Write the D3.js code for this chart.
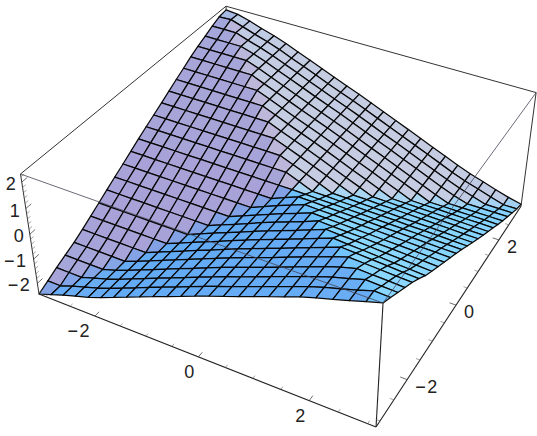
<!DOCTYPE html>
<html>
<head>
<meta charset="utf-8">
<script src="https://cdn.jsdelivr.net/npm/d3@7"></script>
<style>
body { margin: 0; background: #fff; }
text { font-family: "Liberation Sans", Arial, sans-serif; font-size: 18px; fill: #222; }
</style>
</head>
<body>
<div id="chart"></div>
<script>
// grid nodes of the surface
var xNodes = [-3.14,-2.88,-2.62,-2.36,-2.09,-1.83,-1.57,-1.31,-1.05,-0.79,-0.52,-0.26,0,0.26,0.52,0.79,1.05,1.31,1.57,1.83,2.09,2.36,2.62,2.88,3.14];
var yNodes = [-3.14,-2.88,-2.62,-2.36,-2.09,-1.83,-1.57,-1.31,-1.05,-0.79,-0.52,-0.26,0,0.26,0.52,0.79,1.05,1.31,1.57,1.83,2.09,2.36,2.62,2.88,3.14];
// surface height, one row per y node
var zRows = [
[-2.45,-2.27,-2.08,-1.91,-1.74,-1.54,-1.32,-1.1,-0.88,-0.66,-0.44,-0.22,0,0.21,0.41,0.62,0.83,1.04,1.24,1.45,1.63,1.79,1.96,2.14,2.3],
[-2.27,-2.27,-2.08,-1.91,-1.74,-1.54,-1.32,-1.1,-0.88,-0.66,-0.44,-0.22,0,0.21,0.41,0.62,0.83,1.04,1.24,1.45,1.63,1.79,1.96,2.14,2.11],
[-2.08,-2.08,-2.08,-1.91,-1.74,-1.54,-1.32,-1.1,-0.88,-0.66,-0.44,-0.22,0,0.21,0.41,0.62,0.83,1.04,1.24,1.45,1.63,1.79,1.96,1.93,1.91],
[-1.91,-1.91,-1.91,-1.91,-1.74,-1.54,-1.32,-1.1,-0.88,-0.66,-0.44,-0.22,0,0.21,0.41,0.62,0.83,1.04,1.24,1.45,1.63,1.79,1.76,1.74,1.71],
[-1.74,-1.74,-1.74,-1.74,-1.74,-1.54,-1.32,-1.1,-0.88,-0.66,-0.44,-0.22,0,0.21,0.41,0.62,0.83,1.04,1.24,1.45,1.63,1.6,1.57,1.54,1.51],
[-1.54,-1.54,-1.54,-1.54,-1.54,-1.54,-1.32,-1.1,-0.88,-0.66,-0.44,-0.22,0,0.21,0.41,0.62,0.83,1.04,1.24,1.45,1.42,1.38,1.35,1.31,1.28],
[-1.32,-1.32,-1.32,-1.32,-1.32,-1.32,-1.32,-1.1,-0.88,-0.66,-0.44,-0.22,0,0.21,0.41,0.62,0.83,1.04,1.24,1.2,1.17,1.13,1.09,1.06,1.02],
[-1.1,-1.1,-1.1,-1.1,-1.1,-1.1,-1.1,-1.1,-0.88,-0.66,-0.44,-0.22,0,0.21,0.41,0.62,0.83,1.04,1.01,0.98,0.95,0.91,0.88,0.85,0.82],
[-0.88,-0.88,-0.88,-0.88,-0.88,-0.88,-0.88,-0.88,-0.88,-0.66,-0.44,-0.22,0,0.21,0.41,0.62,0.83,0.8,0.78,0.76,0.73,0.71,0.68,0.66,0.63],
[-0.66,-0.66,-0.66,-0.66,-0.66,-0.66,-0.66,-0.66,-0.66,-0.66,-0.44,-0.22,0,0.21,0.41,0.62,0.6,0.58,0.56,0.54,0.52,0.5,0.48,0.46,0.44],
[-0.44,-0.44,-0.44,-0.44,-0.44,-0.44,-0.44,-0.44,-0.44,-0.44,-0.44,-0.22,0,0.21,0.41,0.39,0.38,0.36,0.34,0.33,0.31,0.29,0.27,0.26,0.24],
[-0.22,-0.22,-0.22,-0.22,-0.22,-0.22,-0.22,-0.22,-0.22,-0.22,-0.22,-0.22,0,0.21,0.2,0.18,0.17,0.15,0.14,0.12,0.11,0.09,0.08,0.06,0.05],
[0,0,0,0,0,0,0,0,0,0,0,0,0,-0.01,-0.03,-0.04,-0.05,-0.06,-0.08,-0.09,-0.1,-0.11,-0.13,-0.14,-0.15],
[0.21,0.21,0.21,0.21,0.21,0.21,0.21,0.21,0.21,0.21,0.21,0.21,0,-0.22,-0.23,-0.25,-0.26,-0.27,-0.28,-0.29,-0.31,-0.32,-0.33,-0.35,-0.36],
[0.41,0.41,0.41,0.41,0.41,0.41,0.41,0.41,0.41,0.41,0.41,0.21,0,-0.22,-0.44,-0.45,-0.47,-0.48,-0.49,-0.51,-0.52,-0.53,-0.54,-0.56,-0.57],
[0.62,0.62,0.62,0.62,0.62,0.62,0.62,0.62,0.62,0.62,0.41,0.21,0,-0.22,-0.44,-0.66,-0.67,-0.69,-0.7,-0.71,-0.73,-0.74,-0.75,-0.77,-0.78],
[0.83,0.83,0.83,0.83,0.83,0.83,0.83,0.83,0.83,0.62,0.41,0.21,0,-0.22,-0.44,-0.66,-0.88,-0.89,-0.91,-0.92,-0.93,-0.94,-0.95,-0.97,-0.98],
[1.04,1.04,1.04,1.04,1.04,1.04,1.04,1.04,0.83,0.62,0.41,0.21,0,-0.22,-0.44,-0.66,-0.88,-1.1,-1.11,-1.12,-1.13,-1.14,-1.15,-1.16,-1.17],
[1.24,1.24,1.24,1.24,1.24,1.24,1.24,1.04,0.83,0.62,0.41,0.21,0,-0.22,-0.44,-0.66,-0.88,-1.1,-1.32,-1.33,-1.33,-1.34,-1.35,-1.35,-1.36],
[1.45,1.45,1.45,1.45,1.45,1.45,1.24,1.04,0.83,0.62,0.41,0.21,0,-0.22,-0.44,-0.66,-0.88,-1.1,-1.32,-1.54,-1.54,-1.55,-1.55,-1.55,-1.56],
[1.63,1.63,1.63,1.63,1.63,1.45,1.24,1.04,0.83,0.62,0.41,0.21,0,-0.22,-0.44,-0.66,-0.88,-1.1,-1.32,-1.54,-1.74,-1.74,-1.74,-1.74,-1.74],
[1.79,1.79,1.79,1.79,1.63,1.45,1.24,1.04,0.83,0.62,0.41,0.21,0,-0.22,-0.44,-0.66,-0.88,-1.1,-1.32,-1.54,-1.74,-1.91,-1.91,-1.91,-1.91],
[1.96,1.96,1.96,1.79,1.63,1.45,1.24,1.04,0.83,0.62,0.41,0.21,0,-0.22,-0.44,-0.66,-0.88,-1.1,-1.32,-1.54,-1.74,-1.91,-2.08,-2.08,-2.08],
[2.1,2.12,1.96,1.79,1.63,1.45,1.24,1.04,0.83,0.62,0.41,0.21,0,-0.22,-0.44,-0.66,-0.88,-1.1,-1.32,-1.54,-1.74,-1.91,-2.08,-2.24,-2.24],
[2.15,2.1,1.96,1.79,1.63,1.45,1.24,1.04,0.83,0.62,0.41,0.21,0,-0.22,-0.44,-0.66,-0.88,-1.1,-1.32,-1.54,-1.74,-1.91,-2.08,-2.24,-2.36]
];
// axis ticks
var xMajor = [-2, 0, 2], yMajor = [-2, 0, 2], zMajor = [-2, -1, 0, 1, 2];
var xMinor = [-3, -2.5, -1.5, -1, -0.5, 0.5, 1, 1.5, 2.5, 3];
var yMinor = [-3, -2.5, -1.5, -1, -0.5, 0.5, 1, 1.5, 2.5, 3];
var zMinor = [-2.4, -1.8, -1.6, -1.4, -1.2, -0.8, -0.6, -0.4, -0.2, 0.2, 0.4, 0.6, 0.8, 1.2, 1.4, 1.6, 1.8, 2.2];

var width = 537, height = 436;

var xScale = d3.scaleLinear().domain([-3.14, 3.14]).range([0, 1]);
var yScale = d3.scaleLinear().domain([-3.14, 3.14]).range([0, 1]);
var zScale = d3.scaleLinear().domain([-2.45, 2.3]).range([0, 1]);

// camera fitted to the corners of the box
function homog(x, y, z) {
	var u = xScale(x), v = yScale(y), w = zScale(z);
	return [39 + 298.2 * u + 238.6 * v - 19.9 * w,
		294 + 88.9 * u - 155 * v - 131.9 * w,
		1 - 0.1033 * u + 0.2085 * v - 0.0683 * w];
}
function project(x, y, z) {
	var h = homog(x, y, z);
	return [h[0] / h[2], h[1] / h[2]];
}

var svg = d3.select("#chart")
  .append("svg")
	.attr("width", width)
	.attr("height", height);

var xMin = -3.14, xMax = 3.14, yMin = -3.14, yMax = 3.14, zMin = -2.45, zMax = 2.3;

function edge(a, b, color, sw) {
	var p = project(a[0], a[1], a[2]), q = project(b[0], b[1], b[2]);
	svg.append("line")
		.attr("x1", p[0]).attr("y1", p[1])
		.attr("x2", q[0]).attr("y2", q[1])
		.attr("stroke", color)
		.attr("stroke-width", sw);
}

// back edges of the box, the surface covers most of them
edge([xMin, yMax, zMin], [xMin, yMax, zMax], "#333", 1);
edge([xMin, yMin, zMin], [xMin, yMax, zMin], "#333", 1);
edge([xMin, yMax, zMin], [xMax, yMax, zMin], "#333", 1);

// one facet per grid cell
var cells = [];
for (var j = 0; j < yNodes.length - 1; j++) {
	for (var i = 0; i < xNodes.length - 1; i++) {
		var z00 = zRows[j][i], z10 = zRows[j][i + 1], z01 = zRows[j + 1][i], z11 = zRows[j + 1][i + 1];
		cells.push({
			corners: [[xNodes[i], yNodes[j], z00], [xNodes[i + 1], yNodes[j], z10],
				[xNodes[i + 1], yNodes[j + 1], z11], [xNodes[i], yNodes[j + 1], z01]],
			dx: (z10 + z11 - z00 - z01) / 2,
			dy: (z01 + z11 - z00 - z10) / 2
		});
	}
}
cells.forEach(function(c) {
	c.depth = d3.mean(c.corners, function(p) { return homog(p[0], p[1], p[2])[2]; });
});
cells.sort(function(a, b) { return b.depth - a.depth; });

// shade from the slope of the facet, each plane keeps a nearly even colour
function shade(c) {
	var px = -c.dx / 0.2, py = -c.dy / 0.2;
	var k = 1 / Math.pow(Math.max(Math.hypot(px, py), 0.05), 0.6);
	px *= k; py *= k;
	return d3.rgb(149 + 47 * px - 17.5 * py, 188 + 16.5 * px + 24 * py, 236 - 9 * px + 19.5 * py).formatHex();
}

svg.append("g")
	.selectAll("path")
	.data(cells)
	.join("path")
	.attr("d", function(c) { return d3.line()(c.corners.map(function(p) { return project(p[0], p[1], p[2]); })) + "Z"; })
	.attr("fill", shade)
	.attr("stroke", "#080808")
	.attr("stroke-width", 1.25)
	.attr("stroke-linejoin", "round");

// front edges of the box
edge([xMin, yMin, zMin], [xMin, yMin, zMax], "#333", 1);
edge([xMin, yMin, zMax], [xMin, yMax, zMax], "#333", 1);
edge([xMin, yMax, zMax], [xMax, yMax, zMax], "#333", 1);
edge([xMax, yMax, zMax], [xMax, yMax, zMin], "#333", 1);
edge([xMin, yMin, zMin], [xMax, yMin, zMin], "#222", 1.1);
edge([xMax, yMin, zMin], [xMax, yMax, zMin], "#222", 1.1);
edge([xMax, yMin, zMin], [xMax, yMin, zMax], "#222", 1.1);
edge([xMin, yMin, zMax], [xMax, yMin, zMax], "#445", 0.8);
edge([xMax, yMin, zMax], [xMax, yMax, zMax], "#445", 0.8);

// ticks
xMajor.forEach(function(t) { edge([t, yMin, zMin], [t, yMin + 0.12, zMin], "#333", 0.7); });
xMinor.forEach(function(t) { edge([t, yMin, zMin], [t, yMin + 0.07, zMin], "#666", 0.6); });
yMajor.forEach(function(t) { edge([xMax, t, zMin], [xMax - 0.12, t, zMin], "#333", 0.7); });
yMinor.forEach(function(t) { edge([xMax, t, zMin], [xMax - 0.07, t, zMin], "#666", 0.6); });
zMajor.forEach(function(t) { edge([xMin, yMin, t], [xMin, yMin + 0.14, t], "#333", 0.7); });
zMinor.forEach(function(t) { edge([xMin, yMin, t], [xMin, yMin + 0.08, t], "#666", 0.6); });

function label(list, pos, dx, dy, anchor) {
	svg.append("g")
		.selectAll("text")
		.data(list)
		.join("text")
		.attr("x", function(t) { return pos(t)[0] + dx; })
		.attr("y", function(t) { return pos(t)[1] + dy; })
		.attr("text-anchor", anchor)
		.style("letter-spacing", function(t) { return t < 0 ? "1.5px" : null; })
		.text(function(t) { return t < 0 ? "\u2212" + (-t) : t; });
}
label(xMajor, function(t) { return project(t, yMin, zMin); }, -4, 21, "end");
label(yMajor, function(t) { return project(xMax, t, zMin); }, 8, 13, "start");
label(zMajor, function(t) { return project(xMin, yMin, t); }, -6, 8, "end");
</script>
</body>
</html>
